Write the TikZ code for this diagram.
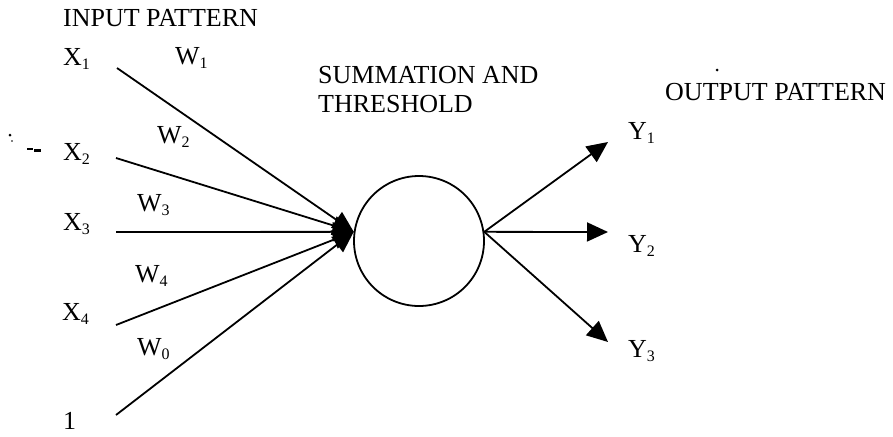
\documentclass[tikz,border=0pt]{standalone}
\usepackage{fontspec}
\setmainfont{Liberation Serif}
\usetikzlibrary{arrows.meta}
\newcommand{\lowidx}[1]{\raisebox{-4pt}{\fontsize{16}{16}\selectfont #1}}
\tikzset{
  lbl/.style={anchor=base west, inner sep=0pt, font=\fontsize{26}{29}\selectfont},
  wire/.style={line width=1.8pt, -{Triangle[length=21pt,width=19pt]}},
  neuron/.style={circle, draw, line width=1.8pt, minimum size=130pt, inner sep=0pt}
}
\begin{document}
\begin{tikzpicture}[x=1pt,y=-1pt]
\useasboundingbox (0,0) rectangle (893,436);
% labels
\node[lbl] (ip) at (63,27) {INPUT PATTERN};
\node[lbl] (x1) at (63,65) {X\lowidx{1}};
\node[lbl] (x2) at (63,160) {X\lowidx{2}};
\node[lbl] (x3) at (63,230) {X\lowidx{3}};
\node[lbl] (x4) at (62,320) {X\lowidx{4}};
\node[lbl] (one) at (63,429) {1};
\node[lbl] (w1) at (175,64) {W\lowidx{1}};
\node[lbl] (w2) at (157,143) {W\lowidx{2}};
\node[lbl] (w3) at (137,211) {W\lowidx{3}};
\node[lbl] (w4) at (135,282) {W\lowidx{4}};
\node[lbl] (w0) at (137,355) {W\lowidx{0}};
\node[lbl] (st1) at (318,83) {SUMMATION AND};
\node[lbl] (st2) at (318,112) {THRESHOLD};
\node[lbl] (op) at (665,100) {OUTPUT PATTERN};
\node[lbl] (y1) at (628,139) {Y\lowidx{1}};
\node[lbl] (y2) at (628,252) {Y\lowidx{2}};
\node[lbl] (y3) at (628,357) {Y\lowidx{3}};
% neuron
\node[neuron] (sum) at (419,241) {};
% line ends
\coordinate (s1) at (117,68);
\coordinate (s2) at (116,158);
\coordinate (s3) at (116,232);
\coordinate (s4) at (116,325);
\coordinate (s0) at (116,415);
\coordinate (e1) at (608,142);
\coordinate (e2) at (608,232);
\coordinate (e3) at (608,342);
% input connectors
\draw[wire] (s1) -- (sum.172);
\draw[wire] (s2) -- (sum.172);
\draw[wire] (s3) -- (sum.172);
\draw[wire] (s4) -- (sum.172);
\draw[wire] (s0) -- (sum.172);
% output connectors
\draw[wire] (sum.8) -- (e1);
\draw[wire] (sum.8) -- (e2);
\draw[wire] (sum.8) -- (e3);
% specks
\fill (10,135) circle (1.5pt);
\fill (12,141) circle (0.8pt);
\fill (27,147.5) rectangle (33,149.5);
\fill (34,149) rectangle (41,151.5);
\fill (717,70) circle (1.5pt);
\end{tikzpicture}
\end{document}
